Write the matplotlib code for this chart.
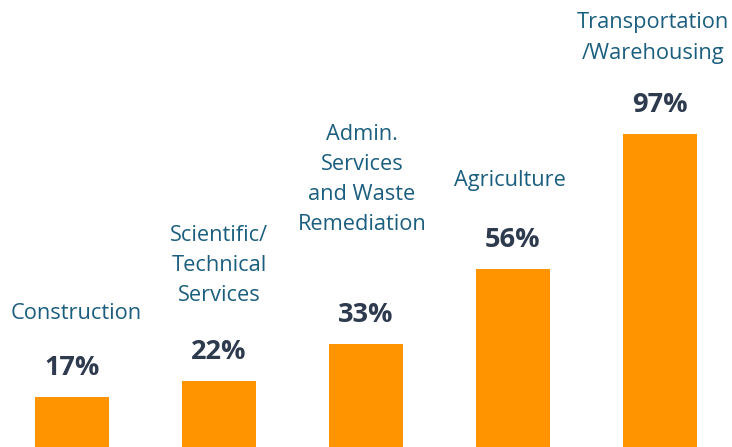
import matplotlib
matplotlib.use("Agg")
from matplotlib import pyplot as plt

# data
industries = ["Construction", "Scientific/\nTechnical\nServices",
              "Admin.\nServices\nand Waste\nRemediation", "Agriculture",
              "Transportation\n/Warehousing"]
shares = [17, 22, 33, 56, 97]

# where each industry name sits relative to its bar (pixels: sideways, up to the last line)
name_shift = [4, 0, -4, -3, -7]
name_gap = [84, 85, 120, 88, 81]

bar_color = "#ff9400"
name_color = "#1b5e7e"
value_color = "#2e3a4e"

plt.rcParams["font.family"] = ["Open Sans", "DejaVu Sans"]

fig = plt.figure(figsize=(7.32, 4.47), dpi=100)
ax = fig.add_axes([0, 0, 1, 1])

x = range(len(shares))
ax.bar(x, shares, width=0.503, color=bar_color)

for i, v in enumerate(shares):
    ax.annotate(f"{v}%", xy=(i, v), xytext=(0, 29), textcoords="offset pixels",
                ha="center", va="center", fontsize=19.5, fontweight="bold",
                color=value_color)
    # last line centre sits name_gap px above the bar; shift block centre up accordingly
    n_lines = industries[i].count("\n") + 1
    ax.annotate(industries[i], xy=(i, v),
                xytext=(name_shift[i], name_gap[i] + (n_lines - 1) * 15),
                textcoords="offset pixels",
                ha="center", va="center", fontsize=15.7, color=name_color,
                linespacing=1.58)

ax.set_xlim(-0.49, 4.49)
ax.set_ylim(1.82, 137.7)
ax.axis("off")

fig.savefig("out.png", dpi=100)
